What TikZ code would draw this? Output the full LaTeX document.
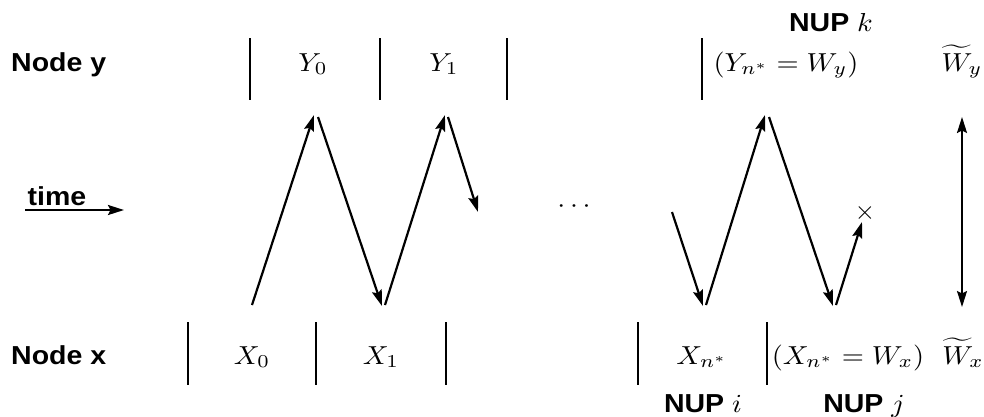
\documentclass[tikz,border=0pt]{standalone}
\usepackage{graphicx}
\usepackage{fontspec}
\newfontfamily\labfont{Liberation Sans}
\usetikzlibrary{arrows.meta}
\newcommand{\sx}[1]{\scalebox{2.85}[2.6]{#1}}
\begin{document}
\begin{tikzpicture}[x=1pt,y=-1pt,
  txt/.style={inner sep=0pt,font=\fontsize{10}{12}\selectfont},
  lab/.style={inner sep=0pt,font=\labfont\bfseries\fontsize{10}{12}\selectfont},
  bar/.style={line width=2pt},
  tip/.tip={Stealth[length=16pt,width=10pt,inset=2.5pt]},
  msg/.style={line width=2.2pt,-tip},
  dmsg/.style={line width=2pt,tip-tip}]
\useasboundingbox (0,0) rectangle (984,416);
% labels
\node[lab,anchor=base west] (ny) at (11,71) {\sx{Node y}};
\node[lab,anchor=base west] (nx) at (11,364) {\sx{Node x}};
\node[lab,anchor=base] (tm) at (57,205) {\sx{time}};
\node[lab,anchor=base] (nk) at (831,31) {\sx{NUP $k$}};
\node[lab,anchor=base] (ni) at (703,412) {\sx{NUP $i$}};
\node[lab,anchor=base] (nj) at (864,412) {\sx{NUP $j$}};
% Y row
\node[txt,anchor=base] (y0) at (313,71) {\sx{$Y_0$}};
\node[txt,anchor=base] (y1) at (444,71) {\sx{$Y_1$}};
\node[txt,anchor=base] (yn) at (786,71) {\sx{$(Y_{n^*}=W_y)$}};
\node[txt,anchor=base] (wy) at (962,71) {\sx{$\widetilde{W}_y$}};
% X row
\node[txt,anchor=base] (x0) at (252,364) {\sx{$X_0$}};
\node[txt,anchor=base] (x1) at (381,364) {\sx{$X_1$}};
\node[txt,anchor=base] (xn) at (702,364) {\sx{$X_{n^*}$}};
\node[txt,anchor=base] (xw) at (848,364) {\sx{$(X_{n^*}=W_x)$}};
\node[txt,anchor=base] (wx) at (963,364) {\sx{$\widetilde{W}_x$}};
% dots and cross
\node[txt] (dots) at (574,207) {\sx{$\cdots$}};
\node[txt] (cr) at (865,213) {\scalebox{2.6}{$\times$}};
% bars
\foreach \x in {250,380,507,702} \draw[bar] (\x,38) -- (\x,100);
\foreach \x in {188,316,446,638,767} \draw[bar] (\x,322) -- (\x,385);
% time arrow
\coordinate (ts) at (25,210);
\coordinate (te) at (124,210);
\draw[msg] (ts) -- (te);
% message points
\coordinate (b0) at (252,305);
\coordinate (t0) at (314,115);
\coordinate (t0s) at (318,117);
\coordinate (b1) at (382,306);
\coordinate (b1s) at (385,305);
\coordinate (t1) at (445,115);
\coordinate (t1s) at (448,117);
\coordinate (m1) at (478,212);
\coordinate (m2) at (672,212);
\coordinate (b2) at (703,306);
\coordinate (b2s) at (706,305);
\coordinate (t2) at (765,115);
\coordinate (t2s) at (769,117);
\coordinate (b3) at (833,306);
\coordinate (b3s) at (836,305);
\coordinate (e3) at (862,222);
\coordinate (dt) at (962,117);
\coordinate (db) at (962,307);
\draw[msg] (b0) -- (t0);
\draw[msg] (t0s) -- (b1);
\draw[msg] (b1s) -- (t1);
\draw[msg] (t1s) -- (m1);
\draw[msg] (m2) -- (b2);
\draw[msg] (b2s) -- (t2);
\draw[msg] (t2s) -- (b3);
\draw[msg] (b3s) -- (e3);
\draw[dmsg] (dt) -- (db);
\end{tikzpicture}
\end{document}
